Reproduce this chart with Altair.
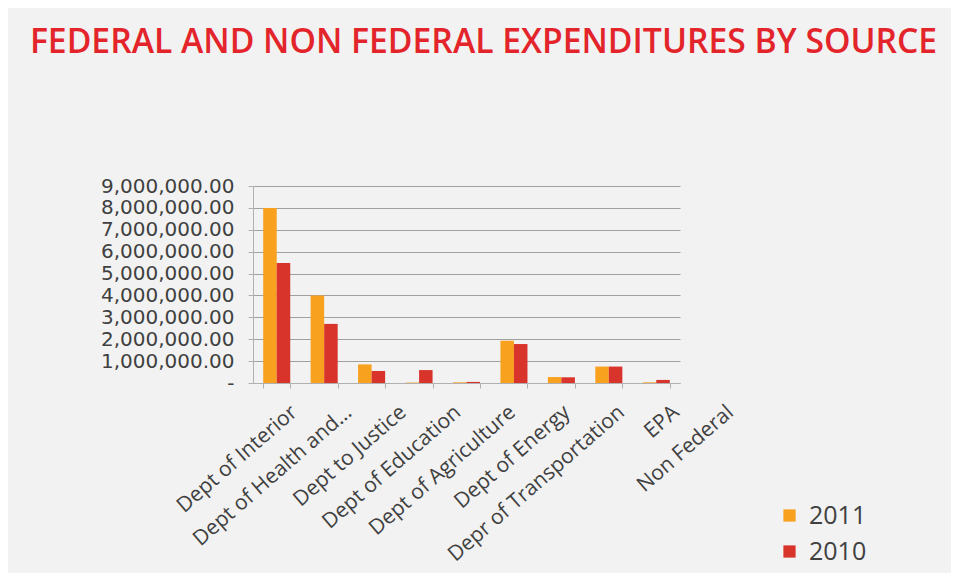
import altair as alt
import pandas as pd

categories = ["Dept of Interior", "Dept of Health and...", "Dept to Justice", "Dept of Education",
              "Dept of Agriculture", "Dept of Energy", "Depr of Transportation", "EPA", "Non Federal"]
series_2011 = [8000000, 4000000, 850000, 20000, 30000, 1930000, 270000, 750000, 30000]
series_2010 = [5480000, 2700000, 550000, 590000, 50000, 1780000, 260000, 750000, 140000]
years = ["2011", "2010"]
colors = ["#f7a11e", "#d8342c"]

rows = []
for c, a, b in zip(categories, series_2011, series_2010):
    rows.append({"source": c, "year": "2011", "value": a})
    rows.append({"source": c, "year": "2010", "value": b})
df = pd.DataFrame(rows)

FONT = "Open Sans"
cat_list = "[" + ",".join("'" + c + "'" for c in categories) + "]"

chart = alt.Chart(df).mark_bar().encode(
    x=alt.X("source:N", sort=categories, title=None,
            scale=alt.Scale(paddingInner=0.43, paddingOuter=0.215),
            axis=alt.Axis(labelAngle=-41, labelAlign="right", labelBaseline="top",
                          labelFontSize=21, labelFont=FONT, labelColor="#404040",
                          labelPadding=13,
                          labelOffset=alt.ExprRef(f"10 + 7.1 * indexof({cat_list}, datum.value)"),
                          labelLimit=400,
                          tickBand="extent", tickSize=5, tickColor="#b0b0b0",
                          domainColor="#b0b0b0")),
    xOffset=alt.XOffset("year:N", sort=years),
    y=alt.Y("value:Q", title=None,
            scale=alt.Scale(domain=[0, 9000000]),
            axis=alt.Axis(values=[0, 1000000, 2000000, 3000000, 4000000, 5000000, 6000000,
                                  7000000, 8000000, 9000000],
                          labelExpr="datum.value == 0 ? '-' : format(datum.value, ',.2f')",
                          labelFontSize=20, labelFont="DejaVu Sans", labelColor="#404040",
                          labelPadding=14, tickSize=5, tickColor="#b0b0b0",
                          domainColor="#b0b0b0", gridColor="#a0a0a0", gridWidth=1.2)),
    color=alt.Color("year:N", sort=years,
                    scale=alt.Scale(domain=years, range=colors),
                    legend=alt.Legend(title=None, orient="none", legendX=524, legendY=317,
                                      symbolType="square", symbolSize=150,
                                      labelFontSize=25, labelFont=FONT, labelColor="#404040",
                                      labelOffset=7, rowPadding=10, symbolStrokeWidth=0)),
).properties(
    width=427, height=197,
    autosize=alt.AutoSizeParams(type="none"),
    padding={"left": 245, "top": 178, "right": 271, "bottom": 190},
    background="#f2f2f2",
    title=alt.TitleParams("FEDERAL AND NON FEDERAL EXPENDITURES BY SOURCE",
                          font=FONT, fontSize=33.7, fontWeight=600, color="#e3242b",
                          anchor="middle", frame="group", dx=17, offset=116),
).configure_view(stroke=None)

chart.save("out.html", embed_options={"renderer": "svg", "actions": False})
